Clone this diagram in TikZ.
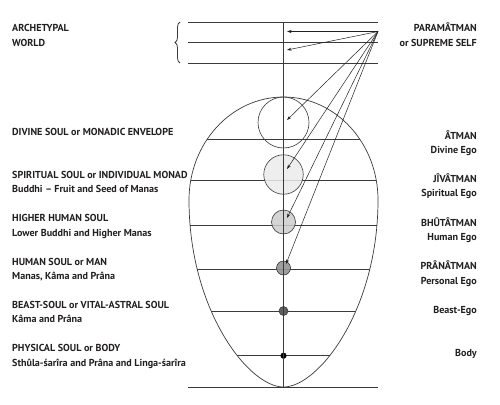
\documentclass[tikz,border=0pt]{standalone}
\usepackage{fontspec}
\setmainfont{PT Sans}
\usetikzlibrary{arrows.meta,decorations.pathreplacing}
\definecolor{ink}{HTML}{231F20}
\definecolor{ln}{HTML}{3A3A3A}
\begin{document}
\begin{tikzpicture}[x=1pt,y=-1pt,
  lbl/.style={font=\bfseries\fontsize{10.1}{12}\selectfont, text=ink, inner sep=0pt},
  lft/.style={lbl, anchor=base west},
  rgt/.style={lbl, anchor=base east},
  topline/.style={draw=ln, line width=1pt},
  eggline/.style={draw=ln, line width=0.7pt},
  arr/.style={draw=ink, line width=0.5pt, -{Stealth[length=4.5pt,width=3pt]}},
  orb/.style={circle, draw=ln, line width=0.6pt, inner sep=0pt}]
\useasboundingbox (0,0) rectangle (500,404);
% archetypal world lines
\draw[topline] (188,22.5) -- (378,22.5);
\draw[topline] (188,42.5) -- (378,42.5);
\draw[topline] (188,63.5) -- (378,63.5);
\draw[ln, line width=0.8pt, decorate, decoration={brace, amplitude=5pt}] (180,63) -- (180,22);
% egg
\def\egg{(283.5,97) .. controls (335.7,97) and (378,143.1) .. (378,200)
  .. controls (378,310) and (318.5,387) .. (283.5,387)
  .. controls (248.5,387) and (189,310) .. (189,200)
  .. controls (189,143.1) and (231.3,97) .. (283.5,97) -- cycle}
\begin{scope}
\clip \egg;
\foreach \yy in {139.3,180.5,225,269,311,355.7}
  \draw[eggline] (150,\yy) -- (420,\yy);
\end{scope}
\draw[eggline] \egg;
\draw[eggline] (188,387) -- (378,387);
% circles
\node[orb, minimum size=51pt] (c1) at (283.5,122.5) {};
\node[orb, fill=black!8, fill opacity=0.85, minimum size=39.5pt] (c2) at (283.5,174.5) {};
\node[orb, fill=black!20, fill opacity=0.85, minimum size=24pt] (c3) at (283.5,222) {};
\node[orb, fill=black!42, fill opacity=0.9, minimum size=14pt] (c4) at (283.5,268) {};
\node[orb, fill=black!62, minimum size=9pt] (c5) at (283.5,311) {};
\node[orb, fill=black, draw=black, minimum size=5.5pt] (c6) at (283.5,355.7) {};
% vertical axis
\draw[eggline] (283.5,22.5) -- (283.5,387);
% arrows
\coordinate (src) at (378,31.5);
\coordinate (t1) at (287,31.5);
\coordinate (t2) at (287,50);
\coordinate (t3) at (287,120);
\coordinate (t4) at (287,169);
\coordinate (t5) at (287,218);
\coordinate (t6) at (286,264);
\foreach \t in {t1,t2,t3,t4,t5,t6} \draw[arr] (src) -- (\t);
% left labels
\node[lft] (a1) at (12,31.5) {ARCHETYPAL};
\node[lft] (a2) at (12,46) {WORLD};
\node[lft] (b1) at (12,135) {DIVINE SOUL or MONADIC ENVELOPE};
\node[lft] (c1l) at (12,178.3) {SPIRITUAL SOUL or INDIVIDUAL MONAD};
\node[lft] (c2l) at (12,192.7) {Buddhi – Fruit and Seed of Manas};
\node[lft] (d1) at (12,221.7) {HIGHER HUMAN SOUL};
\node[lft] (d2) at (12,236) {Lower Buddhi and Higher Manas};
\node[lft] (e1) at (12,265) {HUMAN SOUL or MAN};
\node[lft] (e2) at (12,279.3) {Manas, Kâma and Prâna};
\node[lft] (f1) at (12,308.3) {BEAST-SOUL or VITAL-ASTRAL SOUL};
\node[lft] (f2) at (12,322.7) {Kâma and Prâna};
\node[lft] (g1) at (12,351.7) {PHYSICAL SOUL or BODY};
\node[lft] (g2) at (12,366) {Sthûla-śarîra and Prâna and Linga-śarîra};
% right labels
\node[rgt] (r1) at (477,31.5) {PARAMÂTMAN};
\node[rgt] (r2) at (477,46) {or SUPREME SELF};
\node[rgt] (r3) at (477,139.3) {ÂTMAN};
\node[rgt] (r4) at (477,153.3) {Divine Ego};
\node[rgt] (r5) at (477,182.7) {JÎVÂTMAN};
\node[rgt] (r6) at (477,196.7) {Spiritual Ego};
\node[rgt] (r7) at (477,226) {BHÛTÂTMAN};
\node[rgt] (r8) at (477,240) {Human Ego};
\node[rgt] (r9) at (477,269.3) {PRÂNÂTMAN};
\node[rgt] (r10) at (477,284) {Personal Ego};
\node[rgt] (r11) at (477,313) {Beast-Ego};
\node[rgt] (r12) at (477,356) {Body};
\end{tikzpicture}
\end{document}
